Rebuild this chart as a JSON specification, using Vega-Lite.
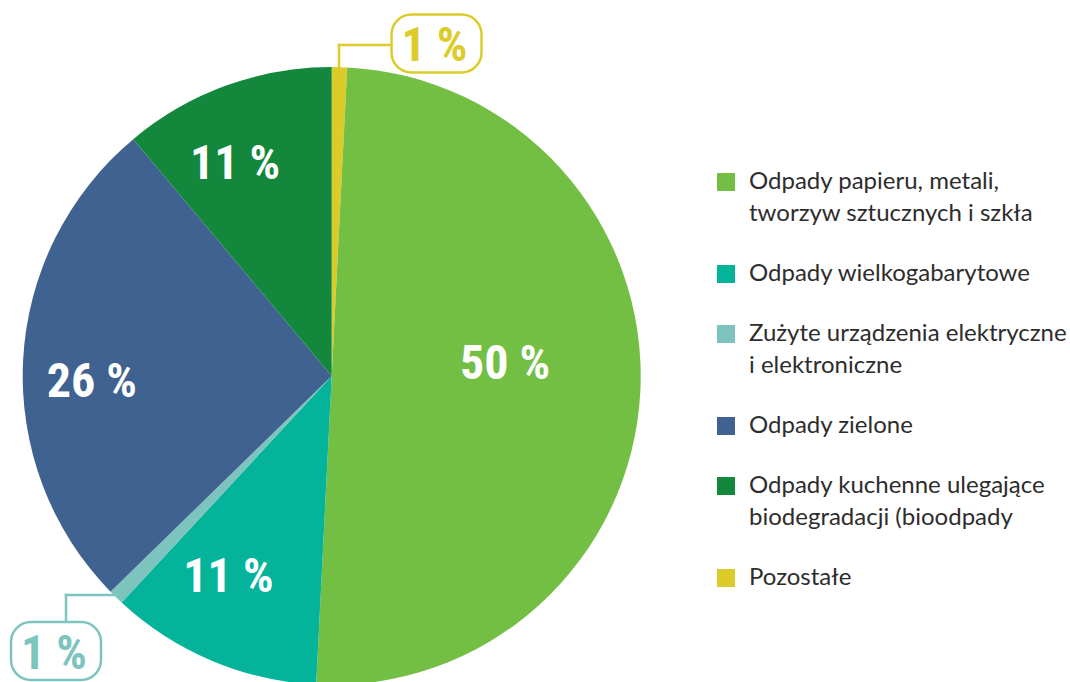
{
  "$schema": "https://vega.github.io/schema/vega-lite/v6.json",
  "width": 1070,
  "height": 682,
  "padding": 0,
  "autosize": {"type": "none"},
  "background": "#ffffff",
  "config": {"view": {"stroke": null}, "style": {"guide-label": {"lineHeight": 32}}},
  "datasets": {
    "waste": [
      {"category": "Pozostałe", "value": 0.8, "label": "1 %"},
      {"category": "Odpady papieru, metali, tworzyw sztucznych i szkła", "value": 50.0, "label": "50 %"},
      {"category": "Odpady wielkogabarytowe", "value": 11.1, "label": "11 %"},
      {"category": "Zużyte urządzenia elektryczne i elektroniczne", "value": 0.8, "label": "1 %"},
      {"category": "Odpady zielone", "value": 26.2, "label": "26 %"},
      {"category": "Odpady kuchenne ulegające biodegradacji (bioodpady", "value": 11.1, "label": "11 %"}
    ],
    "callouts": [
      {"category": "Pozostałe", "label": "1 %", "bx": 0.3392, "by": 1.0761, "x0": 0.0236, "y0": 1.0, "x1": 0.0236, "y1": 1.0712, "x2": 0.1887, "y2": 1.0712},
      {"category": "Zużyte urządzenia elektryczne i elektroniczne", "label": "1 %", "bx": -0.8922, "by": -0.89, "x0": -0.7055, "y0": -0.7087, "x1": -0.8599, "y1": -0.7087, "x2": -0.8599, "y2": -0.7961}
    ]
  },
  "layer": [
    {
      "data": {"name": "waste"},
      "transform": [{"window": [{"op": "row_number", "as": "idx"}]}],
      "layer": [
        {
          "mark": {"type": "arc", "outerRadius": 309},
          "encoding": {
            "x": {"datum": 0, "type": "quantitative", "scale": {"domain": [-1.0735, 2.3893], "nice": false, "zero": false}, "axis": null},
            "y": {"datum": 0, "type": "quantitative", "scale": {"domain": [-0.9903, 1.2168], "nice": false, "zero": false}, "axis": null},
            "theta": {"field": "value", "type": "quantitative", "stack": true},
            "order": {"field": "idx", "type": "quantitative"},
            "color": {
              "field": "category",
              "type": "nominal",
              "scale": {
                "domain": [
                  "Odpady papieru, metali, tworzyw sztucznych i szkła",
                  "Odpady wielkogabarytowe",
                  "Zużyte urządzenia elektryczne i elektroniczne",
                  "Odpady zielone",
                  "Odpady kuchenne ulegające biodegradacji (bioodpady",
                  "Pozostałe"
                ],
                "range": ["#72bf44", "#04b49a", "#7ec4be", "#3f6290", "#13873c", "#dccc2a"]
              },
              "legend": {
                "orient": "none",
                "direction": "vertical",
                "legendX": 714,
                "legendY": 170,
                "title": null,
                "padding": 0,
                "symbolType": "square",
                "symbolSize": 324,
                "symbolStrokeWidth": 0,
                "symbolOpacity": 1,
                "labelFont": "Lato",
                "labelFontSize": 24,
                "labelColor": "#2d2d2d",
                "labelLimit": 400,
                "labelOffset": 11,
                "labelBaseline": "middle",
                "rowPadding": 36,
                "labelExpr": "datum.label == 'Odpady papieru, metali, tworzyw sztucznych i szkła' ? ['Odpady papieru, metali,', 'tworzyw sztucznych i szkła'] : datum.label == 'Zużyte urządzenia elektryczne i elektroniczne' ? ['Zużyte urządzenia elektryczne', 'i elektroniczne'] : datum.label == 'Odpady kuchenne ulegające biodegradacji (bioodpady' ? ['Odpady kuchenne ulegające', 'biodegradacji (bioodpady'] : datum.label"
              }
            }
          }
        },
        {
          "mark": {
            "type": "text",
            "font": "Roboto Condensed, Liberation Sans Narrow, DejaVu Sans Condensed, sans-serif",
            "fontWeight": "bold",
            "fontSize": 48,
            "fill": "#ffffff",
            "align": "center",
            "baseline": "middle",
            "dy": 3,
            "radius": {"expr": "datum.idx == 2 ? 174 : datum.idx == 3 ? 224 : datum.idx == 5 ? 240 : 235"},
            "thetaOffset": {"expr": "datum.idx == 2 ? -0.131 : datum.idx == 3 ? 0.08 : datum.idx == 5 ? -0.068 : -0.075"}
          },
          "encoding": {
            "x": {"datum": 0, "type": "quantitative", "scale": {"domain": [-1.0735, 2.3893], "nice": false, "zero": false}, "axis": null},
            "y": {"datum": 0, "type": "quantitative", "scale": {"domain": [-0.9903, 1.2168], "nice": false, "zero": false}, "axis": null},
            "theta": {"field": "value", "type": "quantitative", "stack": true},
            "order": {"field": "idx", "type": "quantitative"},
            "text": {"condition": {"test": "datum.value > 5", "field": "label", "type": "nominal"}, "value": ""}
          }
        }
      ]
    },
    {
      "data": {"name": "callouts"},
      "layer": [
        {
          "mark": {"type": "rule", "strokeWidth": 2.5, "strokeCap": "square"},
          "encoding": {
            "x": {"field": "x0", "type": "quantitative", "scale": {"domain": [-1.0735, 2.3893], "nice": false, "zero": false}, "axis": null},
            "y": {"field": "y0", "type": "quantitative", "scale": {"domain": [-0.9903, 1.2168], "nice": false, "zero": false}, "axis": null},
            "x2": {"field": "x1"},
            "y2": {"field": "y1"},
            "stroke": {"field": "category", "type": "nominal", "scale": {"domain": ["Pozostałe", "Zużyte urządzenia elektryczne i elektroniczne"], "range": ["#dccc2a", "#7ec4be"]}, "legend": null}
          }
        },
        {
          "mark": {"type": "rule", "strokeWidth": 2.5, "strokeCap": "square"},
          "encoding": {
            "x": {"field": "x1", "type": "quantitative", "scale": {"domain": [-1.0735, 2.3893], "nice": false, "zero": false}, "axis": null},
            "y": {"field": "y1", "type": "quantitative", "scale": {"domain": [-0.9903, 1.2168], "nice": false, "zero": false}, "axis": null},
            "x2": {"field": "x2"},
            "y2": {"field": "y2"},
            "stroke": {"field": "category", "type": "nominal", "scale": {"domain": ["Pozostałe", "Zużyte urządzenia elektryczne i elektroniczne"], "range": ["#dccc2a", "#7ec4be"]}, "legend": null}
          }
        },
        {
          "mark": {
            "type": "point",
            "shape": "M -0.5556 -0.6444 L 0.5556 -0.6444 C 0.801 -0.6444 1 -0.4454 1 -0.2 L 1 0.2 C 1 0.4454 0.801 0.6444 0.5556 0.6444 L -0.5556 0.6444 C -0.801 0.6444 -1 0.4454 -1 0.2 L -1 -0.2 C -1 -0.4454 -0.801 -0.6444 -0.5556 -0.6444 Z",
            "size": 8100,
            "filled": true,
            "fill": "#ffffff",
            "strokeWidth": 2.5,
            "opacity": 1
          },
          "encoding": {
            "x": {"field": "bx", "type": "quantitative", "scale": {"domain": [-1.0735, 2.3893], "nice": false, "zero": false}, "axis": null},
            "y": {"field": "by", "type": "quantitative", "scale": {"domain": [-0.9903, 1.2168], "nice": false, "zero": false}, "axis": null},
            "stroke": {"field": "category", "type": "nominal", "scale": {"domain": ["Pozostałe", "Zużyte urządzenia elektryczne i elektroniczne"], "range": ["#dccc2a", "#7ec4be"]}, "legend": null}
          }
        },
        {
          "mark": {
            "type": "text",
            "font": "Roboto Condensed, Liberation Sans Narrow, DejaVu Sans Condensed, sans-serif",
            "fontWeight": "bold",
            "fontSize": 48,
            "align": "center",
            "baseline": "middle",
            "dx": -2,
            "dy": 4
          },
          "encoding": {
            "x": {"field": "bx", "type": "quantitative", "scale": {"domain": [-1.0735, 2.3893], "nice": false, "zero": false}, "axis": null},
            "y": {"field": "by", "type": "quantitative", "scale": {"domain": [-0.9903, 1.2168], "nice": false, "zero": false}, "axis": null},
            "text": {"field": "label", "type": "nominal"},
            "fill": {"field": "category", "type": "nominal", "scale": {"domain": ["Pozostałe", "Zużyte urządzenia elektryczne i elektroniczne"], "range": ["#dccc2a", "#7ec4be"]}, "legend": null}
          }
        }
      ]
    }
  ]
}
